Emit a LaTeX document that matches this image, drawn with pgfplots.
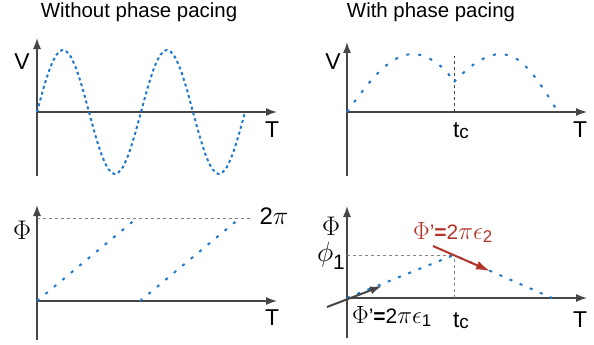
\RequirePackage{fix-cm}
\documentclass[border=0pt]{standalone}
\usepackage{pgfplots}
\pgfplotsset{compat=1.18}
\usetikzlibrary{arrows.meta}
\usepackage{fontspec}
\setmainfont{Liberation Sans}
\definecolor{wave}{RGB}{31,122,204}
\definecolor{axgray}{RGB}{70,70,70}
\definecolor{refgray}{RGB}{130,130,130}
\definecolor{slope}{RGB}{178,52,40}

% one panel: origin where the axes cross, all units in pixels of the reference
\pgfplotsset{panel/.style={
  axis lines=middle, scale only axis, clip=false,
  x=1bp, y=1bp, xmin=0, xmax=240,
  xtick=\empty, ytick=\empty,
  axis line style={draw=axgray, line width=1.3bp, -{Latex[length=11bp,width=8bp]}},
  anchor=south west
}}
\tikzset{
  big/.style={font=\fontsize{23}{26}\selectfont},
  title/.style={font=\fontsize{20.5}{23}\selectfont},
  ref/.style={refgray, line width=1bp, dash pattern=on 3bp off 3bp}
}
\newcommand{\tc}{t\raisebox{-1bp}{\fontsize{19}{20}\selectfont c}}
\newcommand{\slopelabel}[1]{{\fontsize{25}{26}\selectfont$\Phi$}'\textbf{=}2{\fontsize{25}{26}\selectfont$\pi\epsilon$}\raisebox{-3bp}{\fontsize{17}{18}\selectfont #1}}

\begin{document}
\begin{tikzpicture}
\useasboundingbox (0,0) rectangle (594bp,345bp);

% top left: V without pacing
\begin{axis}[panel, ymin=-64, ymax=74, at={(37bp,169bp)}]
\addplot[wave, line width=2bp, dash pattern=on 3bp off 3bp, smooth] coordinates {
 (0,0) (6.5,23.7) (13,43.8) (19.5,57.3) (26,62) (32.5,57.3) (39,43.8) (45.5,23.7)
 (52,0) (58.5,-23.7) (65,-43.8) (71.5,-57.3) (78,-62) (84.5,-57.3) (91,-43.8) (97.5,-23.7)
 (104,0) (110.5,23.7) (117,43.8) (123.5,57.3) (130,62) (136.5,57.3) (143,43.8) (149.5,23.7)
 (156,0) (162.5,-23.7) (169,-43.8) (175.5,-57.3) (182,-62) (188.5,-57.3) (195,-43.8) (201.5,-23.7)
 (208,0)
};
\end{axis}

% top right: V with pacing
\begin{axis}[panel, ymin=-64, ymax=70, at={(347bp,169bp)}]
\addplot[black!75, line width=1bp, dash pattern=on 3bp off 3bp] coordinates {(107,0) (107,56)};
\addplot[wave, line width=2bp, dash pattern=on 3bp off 9bp, smooth] coordinates {
 (0,0) (11,15) (22,29) (33,41) (44,50.2) (55,56) (66,58) (77,56) (88,50.2) (99,41) (107,30)
};
\addplot[wave, line width=2bp, dash pattern=on 3bp off 9bp, smooth] coordinates {
 (107,30) (119,41.6) (131,50.5) (143,56.1) (155,58) (169,53.6) (183,41) (197,22.2) (211,0)
};
\end{axis}

% bottom left: phase without pacing
\begin{axis}[panel, ymin=-39, ymax=96, at={(37bp,5bp)}]
\addplot[ref] coordinates {(0,83) (216,83)};
\addplot[wave, line width=2bp, dash pattern=on 3bp off 8bp] coordinates {(0,0) (100,83)};
\addplot[wave, line width=2bp, dash pattern=on 3bp off 8bp] coordinates {(103,0) (203,83)};
\end{axis}

% bottom right: phase with pacing
\begin{axis}[panel, ymin=-40, ymax=92, at={(347bp,7bp)}]
\addplot[ref] coordinates {(0,43) (107,43)};
\addplot[ref] coordinates {(107,0) (107,43)};
\addplot[wave, line width=2bp, dash pattern=on 3bp off 8bp] coordinates {(0,0) (107,43) (205,0)};
\addplot[axgray, line width=2bp, -{Latex[length=12bp,width=8bp]}] coordinates {(-20,-9) (35,12)};
\addplot[slope, line width=2bp, -{Latex[length=14bp,width=9bp]}] coordinates {(86,52) (143,27)};
\end{axis}

% titles and labels, placed in reference pixels (y measured down from the top)
\node[title] at (139bp,333bp) {Without phase pacing};
\node[title] at (431bp,333bp) {With phase pacing};

\node[big] at (22bp,283bp) {V};
\node[big] at (272bp,215bp) {T};
\node[big] at (333bp,283bp) {V};
\node[big] at (580bp,215bp) {T};
\node[font=\fontsize{23}{24}\selectfont] at (461bp,214bp) {\tc};

\node[font=\fontsize{27}{28}\selectfont] at (22bp,115bp) {$\Phi$};
\node[big] at (272bp,27bp) {T};
\node[font=\fontsize{24}{26}\selectfont, anchor=west] at (256bp,129bp) {2{\fontsize{26}{28}\selectfont$\pi$}};

\node[font=\fontsize{27}{28}\selectfont] at (331bp,118.5bp) {$\Phi$};
\node[anchor=base east, inner sep=0pt] at (345bp,75bp) {\raisebox{8bp}{\fontsize{28}{30}\selectfont$\phi$}\fontsize{21}{24}\selectfont 1};
\node[big] at (580bp,25bp) {T};
\node[font=\fontsize{23}{24}\selectfont] at (461bp,24bp) {\tc};
\node[font=\fontsize{21}{22}\selectfont, anchor=west, inner sep=0pt] at (352bp,29bp) {\slopelabel{1}};
\node[font=\fontsize{21}{22}\selectfont, anchor=west, inner sep=0pt, text=slope] at (413bp,113bp) {\slopelabel{2}};
\end{tikzpicture}
\end{document}
